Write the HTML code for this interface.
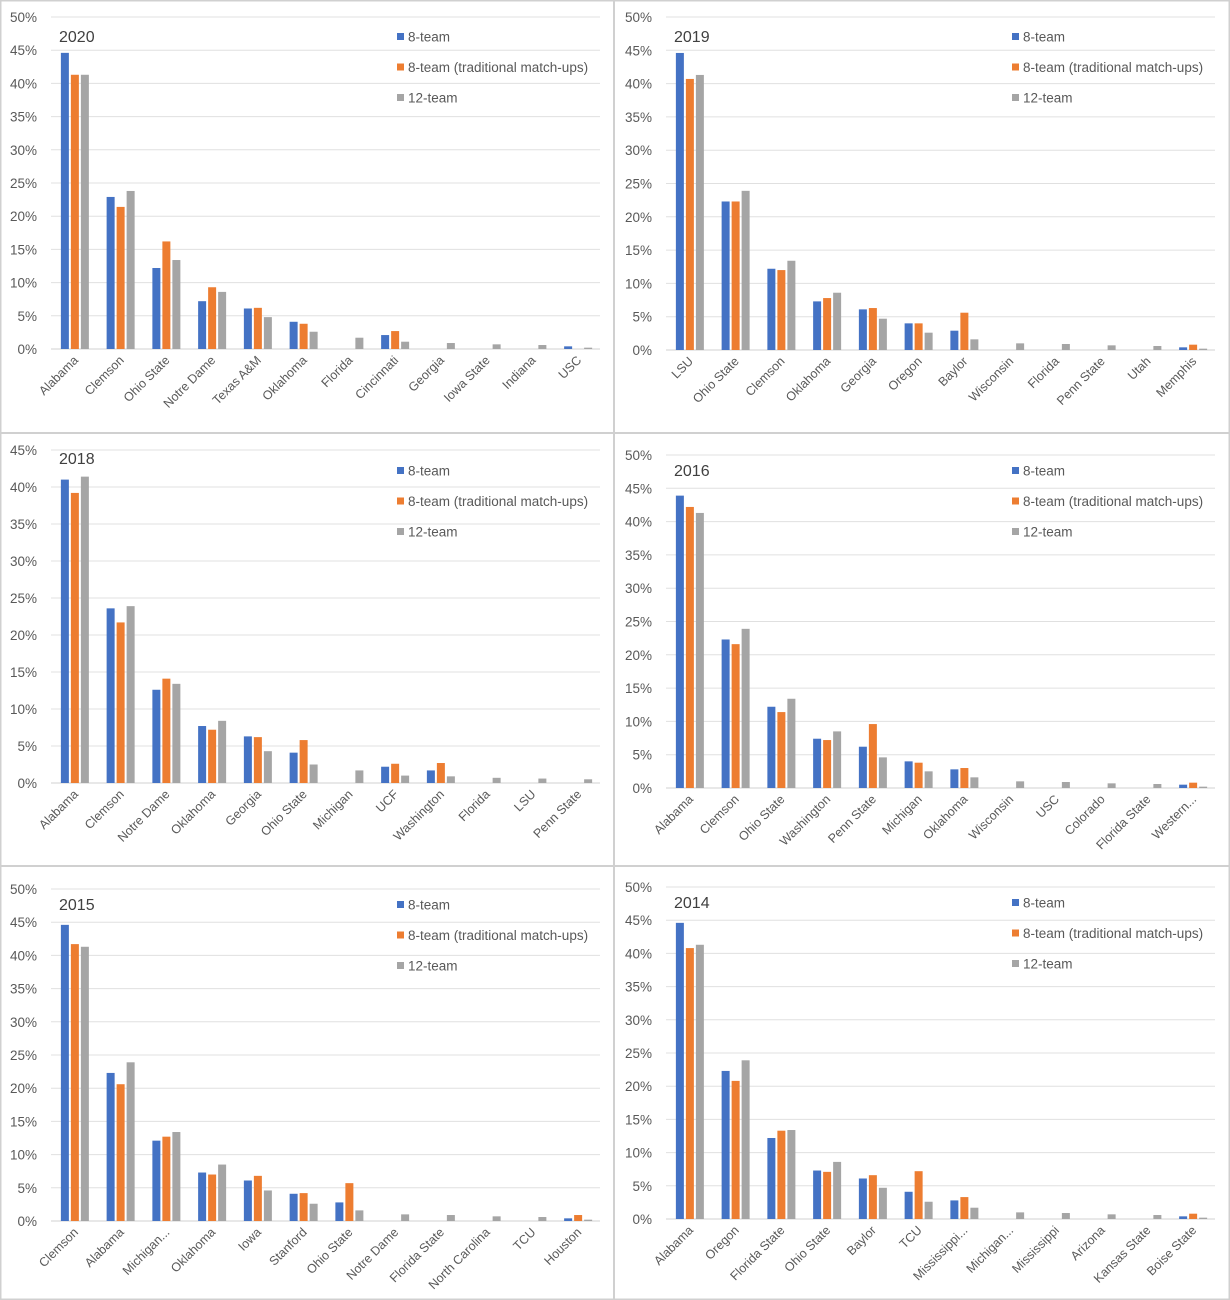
<!DOCTYPE html>
<html><head><meta charset="utf-8"><style>
html,body{margin:0;padding:0;background:#fff}
svg{display:block;font-family:"Liberation Sans",sans-serif}
</style></head><body>
<svg id="c" width="1230" height="1300" xmlns="http://www.w3.org/2000/svg"></svg>
<script>
const seriesNames=["8-team","8-team (traditional match-ups)","12-team"];
const colors=["#4472C4","#ED7D31","#A5A5A5"];
const titles=["2020","2019","2018","2016","2015","2014"];
const cats2020=["Alabama","Clemson","Ohio State","Notre Dame","Texas A&M","Oklahoma","Florida","Cincinnati","Georgia","Iowa State","Indiana","USC"];
const s8_2020=[44.6,22.9,12.2,7.2,6.1,4.1,0,2.1,0,0,0,0.4];
const s8t_2020=[41.3,21.4,16.2,9.3,6.2,3.8,0,2.7,0,0,0,0];
const s12_2020=[41.3,23.8,13.4,8.6,4.8,2.6,1.7,1.1,0.9,0.7,0.6,0.2];
const cats2019=["LSU","Ohio State","Clemson","Oklahoma","Georgia","Oregon","Baylor","Wisconsin","Florida","Penn State","Utah","Memphis"];
const s8_2019=[44.6,22.3,12.2,7.3,6.1,4.0,2.9,0,0,0,0,0.4];
const s8t_2019=[40.7,22.3,12.0,7.8,6.3,4.0,5.6,0,0,0,0,0.8];
const s12_2019=[41.3,23.9,13.4,8.6,4.7,2.6,1.6,1.0,0.9,0.7,0.6,0.2];
const cats2018=["Alabama","Clemson","Notre Dame","Oklahoma","Georgia","Ohio State","Michigan","UCF","Washington","Florida","LSU","Penn State"];
const s8_2018=[41.0,23.6,12.6,7.7,6.3,4.1,0,2.2,1.7,0,0,0];
const s8t_2018=[39.2,21.7,14.1,7.2,6.2,5.8,0,2.6,2.7,0,0,0];
const s12_2018=[41.4,23.9,13.4,8.4,4.3,2.5,1.7,1.0,0.9,0.7,0.6,0.5];
const cats2016=["Alabama","Clemson","Ohio State","Washington","Penn State","Michigan","Oklahoma","Wisconsin","USC","Colorado","Florida State","Western..."];
const s8_2016=[43.9,22.3,12.2,7.4,6.2,4.0,2.8,0,0,0,0,0.5];
const s8t_2016=[42.2,21.6,11.4,7.2,9.6,3.8,3.0,0,0,0,0,0.8];
const s12_2016=[41.3,23.9,13.4,8.5,4.6,2.5,1.6,1.0,0.9,0.7,0.6,0.2];
const cats2015=["Clemson","Alabama","Michigan...","Oklahoma","Iowa","Stanford","Ohio State","Notre Dame","Florida State","North Carolina","TCU","Houston"];
const s8_2015=[44.6,22.3,12.1,7.3,6.1,4.1,2.8,0,0,0,0,0.4];
const s8t_2015=[41.7,20.6,12.7,7.0,6.8,4.2,5.7,0,0,0,0,0.9];
const s12_2015=[41.3,23.9,13.4,8.5,4.6,2.6,1.6,1.0,0.9,0.7,0.6,0.2];
const cats2014=["Alabama","Oregon","Florida State","Ohio State","Baylor","TCU","Mississippi...","Michigan...","Mississippi","Arizona","Kansas State","Boise State"];
const s8_2014=[44.6,22.3,12.2,7.3,6.1,4.1,2.8,0,0,0,0,0.4];
const s8t_2014=[40.8,20.8,13.3,7.1,6.6,7.2,3.3,0,0,0,0,0.8];
const s12_2014=[41.3,23.9,13.4,8.6,4.7,2.6,1.7,1.0,0.9,0.7,0.6,0.2];
const yMaxes=[50,50,45,50,50,50];

const panels=[
 {x:0,zero:349,top:17,ty:42,ly:37,cats:cats2020,s:[s8_2020,s8t_2020,s12_2020]},
 {x:615,zero:350,top:17,ty:42,ly:37,cats:cats2019,s:[s8_2019,s8t_2019,s12_2019]},
 {x:0,zero:783,top:450,ty:464,ly:471,cats:cats2018,s:[s8_2018,s8t_2018,s12_2018]},
 {x:615,zero:788,top:455,ty:476,ly:471,cats:cats2016,s:[s8_2016,s8t_2016,s12_2016]},
 {x:0,zero:1221,top:889,ty:910,ly:905,cats:cats2015,s:[s8_2015,s8t_2015,s12_2015]},
 {x:615,zero:1219,top:887,ty:908,ly:903,cats:cats2014,s:[s8_2014,s8t_2014,s12_2014]}
];
const NS="http://www.w3.org/2000/svg";
const svg=document.getElementById('c');
function mk(tag,attrs,parent,text){const e=document.createElementNS(NS,tag);for(const k in attrs)e.setAttribute(k,attrs[k]);if(text!==undefined)e.textContent=text;parent.appendChild(e);return e;}
const borders=[[614,0,614,1300],[0,433,1230,433],[0,866,1230,866],[0.5,0.5,0.5,1300],[0,0.5,1230,0.5],[1229.5,0,1229.5,1300],[0,1299.5,1230,1299.5]];
borders.forEach(b=>{const l=mk('line',{x1:b[0],y1:b[1],x2:b[2],y2:b[3],stroke:'#d0d0d0','stroke-width':2},svg);

});
panels.forEach((p,i)=>{
 const g=mk('g',{},svg);
 
 
 const max=yMaxes[i];
 const yS=v=>p.zero-(v/max)*(p.zero-p.top);
 const pl=p.x+51,pr=p.x+600;
 const step=(pr-pl)/p.cats.length;
 const xC=j=>pl+step*(j+0.5)+1;
 for(let t=0;t<=max;t+=5){
  const y=yS(t);
  const gl=mk('line',{x1:pl,x2:pr,y1:y,y2:y,stroke:t===0?'#d0d0d0':'#e0e0e0','stroke-width':1},g);
  
  
  const tl=mk('text',{x:p.x+37,y:y+5,'text-anchor':'end','font-size':13.5,fill:'#595959'},g,t+'%');
  
  
 }
 p.s.forEach((arr,k)=>{
  arr.forEach((v,j)=>{
   if(v<=0)return;
   const x=xC(j)+(k-1)*10-4;
   const r=mk('rect',{x:x,y:yS(v),width:8,height:p.zero-yS(v),fill:colors[k]},g);
   
   
  });
 });
 p.cats.forEach((c,j)=>{
  const x=xC(j)+4,y=p.zero+12;
  const t=mk('text',{x:x,y:y,'text-anchor':'end','font-size':12.5,fill:'#595959',transform:`rotate(-45 ${x} ${y})`},g,c);
  
  
 });
 const tt=mk('text',{x:p.x+59,y:p.ty,'font-size':16,fill:'#404040'},g,titles[i]);
 
 
 seriesNames.forEach((n,k)=>{
  const y=p.ly+k*30.5;
  const sq=mk('rect',{x:p.x+397,y:y-4,width:7,height:7,fill:colors[k]},g);
  
  
  const lt=mk('text',{x:p.x+408,y:y+4.5,'font-size':13.5,fill:'#595959'},g,n);
  
  
 });
});
</script>
</body></html>
